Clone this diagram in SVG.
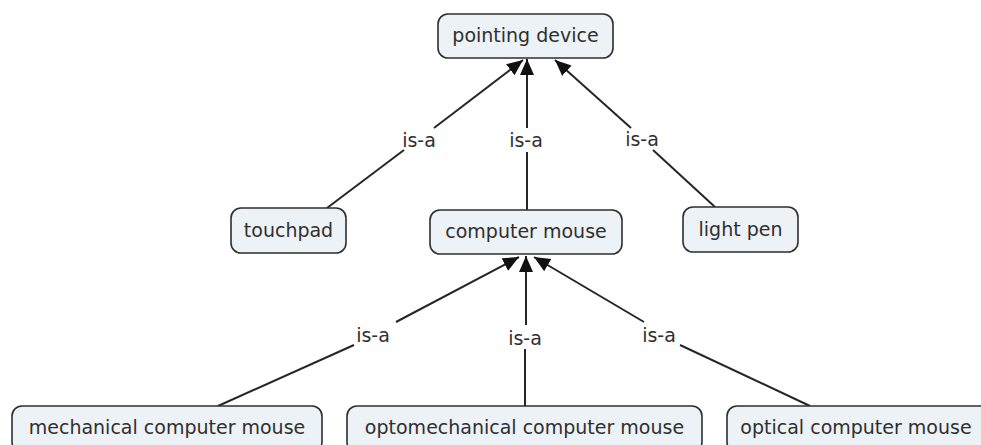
<svg xmlns="http://www.w3.org/2000/svg" width="981" height="445" viewBox="0 0 981 445">
<defs>
<style>
.node rect{fill:#edf2f7;stroke:#2e2e2e;stroke-width:1.6}
.node text,.lbl{font-family:"DejaVu Sans",Verdana,sans-serif;font-size:19px;fill:#2f2f2f;text-anchor:middle}
.conn line{stroke:#262626;stroke-width:2}
.conn line.arr{marker-end:url(#arrow)}
</style>
<marker id="arrow" markerUnits="userSpaceOnUse" markerWidth="18" markerHeight="16" refX="16" refY="8" orient="auto">
<path d="M0,1 L16,8 L0,15 z" fill="#111"/>
</marker>
</defs>
<rect width="981" height="445" fill="#fff"/>
<g id="connectors" class="conn">
<line x1="327" y1="208" x2="404" y2="150"/>
<line class="arr" x1="434" y1="128" x2="523" y2="60"/>
<text class="lbl" x="419" y="147">is-a</text>
<line x1="527" y1="210" x2="527" y2="152"/>
<line class="arr" x1="527" y1="128" x2="527" y2="59"/>
<text class="lbl" x="526" y="147">is-a</text>
<line x1="715" y1="207" x2="653" y2="150"/>
<line class="arr" x1="631" y1="128" x2="555" y2="60"/>
<text class="lbl" x="642" y="146">is-a</text>
<line x1="218" y1="406" x2="354" y2="345"/>
<line class="arr" x1="396" y1="322" x2="519" y2="257"/>
<text class="lbl" x="373" y="342">is-a</text>
<line x1="525" y1="406" x2="525" y2="349"/>
<line class="arr" x1="526" y1="325" x2="526" y2="256"/>
<text class="lbl" x="525" y="345">is-a</text>
<line x1="810" y1="406" x2="680" y2="345"/>
<line class="arr" x1="644" y1="322" x2="534" y2="257"/>
<text class="lbl" x="659" y="342">is-a</text>
</g>
<g id="pointing-device" class="node"><rect x="438" y="14" width="175" height="44" rx="10"/><text x="525.5" y="42">pointing device</text></g>
<g id="touchpad" class="node"><rect x="231" y="208" width="115" height="45" rx="10"/><text x="288.5" y="237">touchpad</text></g>
<g id="computer-mouse" class="node"><rect x="430" y="210" width="192" height="44" rx="10"/><text x="526" y="238">computer mouse</text></g>
<g id="light-pen" class="node"><rect x="683" y="207" width="115" height="45" rx="10"/><text x="740.5" y="236">light pen</text></g>
<g id="mechanical-computer-mouse" class="node"><rect x="12" y="406" width="310" height="46" rx="10"/><text x="167" y="434">mechanical computer mouse</text></g>
<g id="optomechanical-computer-mouse" class="node"><rect x="347" y="406" width="355" height="46" rx="10"/><text x="524.5" y="434">optomechanical computer mouse</text></g>
<g id="optical-computer-mouse" class="node"><rect x="727" y="406" width="270" height="46" rx="10"/><text x="856" y="434">optical computer mouse</text></g>
</svg>
